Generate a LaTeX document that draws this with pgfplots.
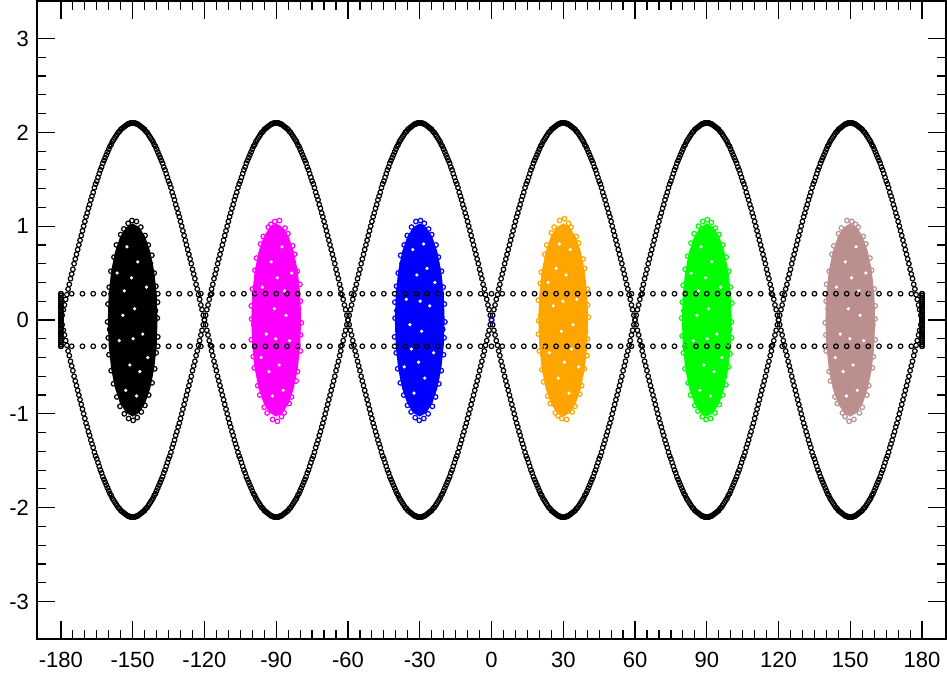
\documentclass[border=0pt]{standalone}
\usepackage{fontspec}
\setmainfont{Liberation Sans}
\usepackage{pgfplots}
\usepackage{pgfplotstable}
\pgfplotsset{compat=1.18}
\definecolor{cmag}{RGB}{255,0,255}
\definecolor{cblue}{RGB}{0,0,255}
\definecolor{corange}{RGB}{255,165,0}
\definecolor{cgreen}{RGB}{0,255,0}
\definecolor{cbrown}{RGB}{188,143,143}
\pgfplotsset{mk/.style={only marks, mark=o, mark size=1.15pt, line width=0.6pt},
  spk/.style={only marks, mark=*, mark size=0.6pt, white, mark options={draw=white, fill=white}}}
\pgfplotstableread{
x yt yb
-180 0 0
-179.5 0.05 -0.05
-179 0.11 -0.11
-178.5 0.16 -0.16
-178 0.22 -0.22
-177.5 0.27 -0.27
-177 0.33 -0.33
-176.5 0.38 -0.38
-176 0.44 -0.44
-175.5 0.49 -0.49
-175 0.54 -0.54
-174.5 0.6 -0.6
-174 0.65 -0.65
-173.5 0.7 -0.7
-173 0.75 -0.75
-172.5 0.8 -0.8
-172 0.85 -0.85
-171.5 0.9 -0.9
-171 0.95 -0.95
-170.5 1 -1
-170 1.05 -1.05
-169.5 1.1 -1.1
-169 1.14 -1.14
-168.5 1.19 -1.19
-168 1.23 -1.23
-167.5 1.28 -1.28
-167 1.32 -1.32
-166.5 1.36 -1.36
-166 1.41 -1.41
-165.5 1.45 -1.45
-165 1.48 -1.48
-164.5 1.52 -1.52
-164 1.56 -1.56
-163.5 1.6 -1.6
-163 1.63 -1.63
-162.5 1.67 -1.67
-162 1.7 -1.7
-161.5 1.73 -1.73
-161 1.76 -1.76
-160.5 1.79 -1.79
-160 1.82 -1.82
-159.5 1.85 -1.85
-159 1.87 -1.87
-158.5 1.9 -1.9
-158 1.92 -1.92
-157.5 1.94 -1.94
-157 1.96 -1.96
-156.5 1.98 -1.98
-156 2 -2
-155.5 2.01 -2.01
-155 2.03 -2.03
-154.5 2.04 -2.04
-154 2.05 -2.05
-153.5 2.06 -2.06
-153 2.07 -2.07
-152.5 2.08 -2.08
-152 2.09 -2.09
-151.5 2.09 -2.09
-151 2.1 -2.1
-150.5 2.1 -2.1
-150 2.1 -2.1
-149.5 2.1 -2.1
-149 2.1 -2.1
-148.5 2.09 -2.09
-148 2.09 -2.09
-147.5 2.08 -2.08
-147 2.07 -2.07
-146.5 2.06 -2.06
-146 2.05 -2.05
-145.5 2.04 -2.04
-145 2.03 -2.03
-144.5 2.01 -2.01
-144 2 -2
-143.5 1.98 -1.98
-143 1.96 -1.96
-142.5 1.94 -1.94
-142 1.92 -1.92
-141.5 1.9 -1.9
-141 1.87 -1.87
-140.5 1.85 -1.85
-140 1.82 -1.82
-139.5 1.79 -1.79
-139 1.76 -1.76
-138.5 1.73 -1.73
-138 1.7 -1.7
-137.5 1.67 -1.67
-137 1.63 -1.63
-136.5 1.6 -1.6
-136 1.56 -1.56
-135.5 1.52 -1.52
-135 1.48 -1.48
-134.5 1.45 -1.45
-134 1.41 -1.41
-133.5 1.36 -1.36
-133 1.32 -1.32
-132.5 1.28 -1.28
-132 1.23 -1.23
-131.5 1.19 -1.19
-131 1.14 -1.14
-130.5 1.1 -1.1
-130 1.05 -1.05
-129.5 1 -1
-129 0.95 -0.95
-128.5 0.9 -0.9
-128 0.85 -0.85
-127.5 0.8 -0.8
-127 0.75 -0.75
-126.5 0.7 -0.7
-126 0.65 -0.65
-125.5 0.6 -0.6
-125 0.54 -0.54
-124.5 0.49 -0.49
-124 0.44 -0.44
-123.5 0.38 -0.38
-123 0.33 -0.33
-122.5 0.27 -0.27
-122 0.22 -0.22
-121.5 0.16 -0.16
-121 0.11 -0.11
-120.5 0.05 -0.05
-120 0 0
-119.5 0.05 -0.05
-119 0.11 -0.11
-118.5 0.16 -0.16
-118 0.22 -0.22
-117.5 0.27 -0.27
-117 0.33 -0.33
-116.5 0.38 -0.38
-116 0.44 -0.44
-115.5 0.49 -0.49
-115 0.54 -0.54
-114.5 0.6 -0.6
-114 0.65 -0.65
-113.5 0.7 -0.7
-113 0.75 -0.75
-112.5 0.8 -0.8
-112 0.85 -0.85
-111.5 0.9 -0.9
-111 0.95 -0.95
-110.5 1 -1
-110 1.05 -1.05
-109.5 1.1 -1.1
-109 1.14 -1.14
-108.5 1.19 -1.19
-108 1.23 -1.23
-107.5 1.28 -1.28
-107 1.32 -1.32
-106.5 1.36 -1.36
-106 1.41 -1.41
-105.5 1.45 -1.45
-105 1.48 -1.48
-104.5 1.52 -1.52
-104 1.56 -1.56
-103.5 1.6 -1.6
-103 1.63 -1.63
-102.5 1.67 -1.67
-102 1.7 -1.7
-101.5 1.73 -1.73
-101 1.76 -1.76
-100.5 1.79 -1.79
-100 1.82 -1.82
-99.5 1.85 -1.85
-99 1.87 -1.87
-98.5 1.9 -1.9
-98 1.92 -1.92
-97.5 1.94 -1.94
-97 1.96 -1.96
-96.5 1.98 -1.98
-96 2 -2
-95.5 2.01 -2.01
-95 2.03 -2.03
-94.5 2.04 -2.04
-94 2.05 -2.05
-93.5 2.06 -2.06
-93 2.07 -2.07
-92.5 2.08 -2.08
-92 2.09 -2.09
-91.5 2.09 -2.09
-91 2.1 -2.1
-90.5 2.1 -2.1
-90 2.1 -2.1
-89.5 2.1 -2.1
-89 2.1 -2.1
-88.5 2.09 -2.09
-88 2.09 -2.09
-87.5 2.08 -2.08
-87 2.07 -2.07
-86.5 2.06 -2.06
-86 2.05 -2.05
-85.5 2.04 -2.04
-85 2.03 -2.03
-84.5 2.01 -2.01
-84 2 -2
-83.5 1.98 -1.98
-83 1.96 -1.96
-82.5 1.94 -1.94
-82 1.92 -1.92
-81.5 1.9 -1.9
-81 1.87 -1.87
-80.5 1.85 -1.85
-80 1.82 -1.82
-79.5 1.79 -1.79
-79 1.76 -1.76
-78.5 1.73 -1.73
-78 1.7 -1.7
-77.5 1.67 -1.67
-77 1.63 -1.63
-76.5 1.6 -1.6
-76 1.56 -1.56
-75.5 1.52 -1.52
-75 1.48 -1.48
-74.5 1.45 -1.45
-74 1.41 -1.41
-73.5 1.36 -1.36
-73 1.32 -1.32
-72.5 1.28 -1.28
-72 1.23 -1.23
-71.5 1.19 -1.19
-71 1.14 -1.14
-70.5 1.1 -1.1
-70 1.05 -1.05
-69.5 1 -1
-69 0.95 -0.95
-68.5 0.9 -0.9
-68 0.85 -0.85
-67.5 0.8 -0.8
-67 0.75 -0.75
-66.5 0.7 -0.7
-66 0.65 -0.65
-65.5 0.6 -0.6
-65 0.54 -0.54
-64.5 0.49 -0.49
-64 0.44 -0.44
-63.5 0.38 -0.38
-63 0.33 -0.33
-62.5 0.27 -0.27
-62 0.22 -0.22
-61.5 0.16 -0.16
-61 0.11 -0.11
-60.5 0.05 -0.05
-60 0 0
-59.5 0.05 -0.05
-59 0.11 -0.11
-58.5 0.16 -0.16
-58 0.22 -0.22
-57.5 0.27 -0.27
-57 0.33 -0.33
-56.5 0.38 -0.38
-56 0.44 -0.44
-55.5 0.49 -0.49
-55 0.54 -0.54
-54.5 0.6 -0.6
-54 0.65 -0.65
-53.5 0.7 -0.7
-53 0.75 -0.75
-52.5 0.8 -0.8
-52 0.85 -0.85
-51.5 0.9 -0.9
-51 0.95 -0.95
-50.5 1 -1
-50 1.05 -1.05
-49.5 1.1 -1.1
-49 1.14 -1.14
-48.5 1.19 -1.19
-48 1.23 -1.23
-47.5 1.28 -1.28
-47 1.32 -1.32
-46.5 1.36 -1.36
-46 1.41 -1.41
-45.5 1.45 -1.45
-45 1.48 -1.48
-44.5 1.52 -1.52
-44 1.56 -1.56
-43.5 1.6 -1.6
-43 1.63 -1.63
-42.5 1.67 -1.67
-42 1.7 -1.7
-41.5 1.73 -1.73
-41 1.76 -1.76
-40.5 1.79 -1.79
-40 1.82 -1.82
-39.5 1.85 -1.85
-39 1.87 -1.87
-38.5 1.9 -1.9
-38 1.92 -1.92
-37.5 1.94 -1.94
-37 1.96 -1.96
-36.5 1.98 -1.98
-36 2 -2
-35.5 2.01 -2.01
-35 2.03 -2.03
-34.5 2.04 -2.04
-34 2.05 -2.05
-33.5 2.06 -2.06
-33 2.07 -2.07
-32.5 2.08 -2.08
-32 2.09 -2.09
-31.5 2.09 -2.09
-31 2.1 -2.1
-30.5 2.1 -2.1
-30 2.1 -2.1
-29.5 2.1 -2.1
-29 2.1 -2.1
-28.5 2.09 -2.09
-28 2.09 -2.09
-27.5 2.08 -2.08
-27 2.07 -2.07
-26.5 2.06 -2.06
-26 2.05 -2.05
-25.5 2.04 -2.04
-25 2.03 -2.03
-24.5 2.01 -2.01
-24 2 -2
-23.5 1.98 -1.98
-23 1.96 -1.96
-22.5 1.94 -1.94
-22 1.92 -1.92
-21.5 1.9 -1.9
-21 1.87 -1.87
-20.5 1.85 -1.85
-20 1.82 -1.82
-19.5 1.79 -1.79
-19 1.76 -1.76
-18.5 1.73 -1.73
-18 1.7 -1.7
-17.5 1.67 -1.67
-17 1.63 -1.63
-16.5 1.6 -1.6
-16 1.56 -1.56
-15.5 1.52 -1.52
-15 1.48 -1.48
-14.5 1.45 -1.45
-14 1.41 -1.41
-13.5 1.36 -1.36
-13 1.32 -1.32
-12.5 1.28 -1.28
-12 1.23 -1.23
-11.5 1.19 -1.19
-11 1.14 -1.14
-10.5 1.1 -1.1
-10 1.05 -1.05
-9.5 1 -1
-9 0.95 -0.95
-8.5 0.9 -0.9
-8 0.85 -0.85
-7.5 0.8 -0.8
-7 0.75 -0.75
-6.5 0.7 -0.7
-6 0.65 -0.65
-5.5 0.6 -0.6
-5 0.54 -0.54
-4.5 0.49 -0.49
-4 0.44 -0.44
-3.5 0.38 -0.38
-3 0.33 -0.33
-2.5 0.27 -0.27
-2 0.22 -0.22
-1.5 0.16 -0.16
-1 0.11 -0.11
-0.5 0.05 -0.05
0 0 0
0.5 0.05 -0.05
1 0.11 -0.11
1.5 0.16 -0.16
2 0.22 -0.22
2.5 0.27 -0.27
3 0.33 -0.33
3.5 0.38 -0.38
4 0.44 -0.44
4.5 0.49 -0.49
5 0.54 -0.54
5.5 0.6 -0.6
6 0.65 -0.65
6.5 0.7 -0.7
7 0.75 -0.75
7.5 0.8 -0.8
8 0.85 -0.85
8.5 0.9 -0.9
9 0.95 -0.95
9.5 1 -1
10 1.05 -1.05
10.5 1.1 -1.1
11 1.14 -1.14
11.5 1.19 -1.19
12 1.23 -1.23
12.5 1.28 -1.28
13 1.32 -1.32
13.5 1.36 -1.36
14 1.41 -1.41
14.5 1.45 -1.45
15 1.48 -1.48
15.5 1.52 -1.52
16 1.56 -1.56
16.5 1.6 -1.6
17 1.63 -1.63
17.5 1.67 -1.67
18 1.7 -1.7
18.5 1.73 -1.73
19 1.76 -1.76
19.5 1.79 -1.79
20 1.82 -1.82
20.5 1.85 -1.85
21 1.87 -1.87
21.5 1.9 -1.9
22 1.92 -1.92
22.5 1.94 -1.94
23 1.96 -1.96
23.5 1.98 -1.98
24 2 -2
24.5 2.01 -2.01
25 2.03 -2.03
25.5 2.04 -2.04
26 2.05 -2.05
26.5 2.06 -2.06
27 2.07 -2.07
27.5 2.08 -2.08
28 2.09 -2.09
28.5 2.09 -2.09
29 2.1 -2.1
29.5 2.1 -2.1
30 2.1 -2.1
30.5 2.1 -2.1
31 2.1 -2.1
31.5 2.09 -2.09
32 2.09 -2.09
32.5 2.08 -2.08
33 2.07 -2.07
33.5 2.06 -2.06
34 2.05 -2.05
34.5 2.04 -2.04
35 2.03 -2.03
35.5 2.01 -2.01
36 2 -2
36.5 1.98 -1.98
37 1.96 -1.96
37.5 1.94 -1.94
38 1.92 -1.92
38.5 1.9 -1.9
39 1.87 -1.87
39.5 1.85 -1.85
40 1.82 -1.82
40.5 1.79 -1.79
41 1.76 -1.76
41.5 1.73 -1.73
42 1.7 -1.7
42.5 1.67 -1.67
43 1.63 -1.63
43.5 1.6 -1.6
44 1.56 -1.56
44.5 1.52 -1.52
45 1.48 -1.48
45.5 1.45 -1.45
46 1.41 -1.41
46.5 1.36 -1.36
47 1.32 -1.32
47.5 1.28 -1.28
48 1.23 -1.23
48.5 1.19 -1.19
49 1.14 -1.14
49.5 1.1 -1.1
50 1.05 -1.05
50.5 1 -1
51 0.95 -0.95
51.5 0.9 -0.9
52 0.85 -0.85
52.5 0.8 -0.8
53 0.75 -0.75
53.5 0.7 -0.7
54 0.65 -0.65
54.5 0.6 -0.6
55 0.54 -0.54
55.5 0.49 -0.49
56 0.44 -0.44
56.5 0.38 -0.38
57 0.33 -0.33
57.5 0.27 -0.27
58 0.22 -0.22
58.5 0.16 -0.16
59 0.11 -0.11
59.5 0.05 -0.05
60 0 0
60.5 0.05 -0.05
61 0.11 -0.11
61.5 0.16 -0.16
62 0.22 -0.22
62.5 0.27 -0.27
63 0.33 -0.33
63.5 0.38 -0.38
64 0.44 -0.44
64.5 0.49 -0.49
65 0.54 -0.54
65.5 0.6 -0.6
66 0.65 -0.65
66.5 0.7 -0.7
67 0.75 -0.75
67.5 0.8 -0.8
68 0.85 -0.85
68.5 0.9 -0.9
69 0.95 -0.95
69.5 1 -1
70 1.05 -1.05
70.5 1.1 -1.1
71 1.14 -1.14
71.5 1.19 -1.19
72 1.23 -1.23
72.5 1.28 -1.28
73 1.32 -1.32
73.5 1.36 -1.36
74 1.41 -1.41
74.5 1.45 -1.45
75 1.48 -1.48
75.5 1.52 -1.52
76 1.56 -1.56
76.5 1.6 -1.6
77 1.63 -1.63
77.5 1.67 -1.67
78 1.7 -1.7
78.5 1.73 -1.73
79 1.76 -1.76
79.5 1.79 -1.79
80 1.82 -1.82
80.5 1.85 -1.85
81 1.87 -1.87
81.5 1.9 -1.9
82 1.92 -1.92
82.5 1.94 -1.94
83 1.96 -1.96
83.5 1.98 -1.98
84 2 -2
84.5 2.01 -2.01
85 2.03 -2.03
85.5 2.04 -2.04
86 2.05 -2.05
86.5 2.06 -2.06
87 2.07 -2.07
87.5 2.08 -2.08
88 2.09 -2.09
88.5 2.09 -2.09
89 2.1 -2.1
89.5 2.1 -2.1
90 2.1 -2.1
90.5 2.1 -2.1
91 2.1 -2.1
91.5 2.09 -2.09
92 2.09 -2.09
92.5 2.08 -2.08
93 2.07 -2.07
93.5 2.06 -2.06
94 2.05 -2.05
94.5 2.04 -2.04
95 2.03 -2.03
95.5 2.01 -2.01
96 2 -2
96.5 1.98 -1.98
97 1.96 -1.96
97.5 1.94 -1.94
98 1.92 -1.92
98.5 1.9 -1.9
99 1.87 -1.87
99.5 1.85 -1.85
100 1.82 -1.82
100.5 1.79 -1.79
101 1.76 -1.76
101.5 1.73 -1.73
102 1.7 -1.7
102.5 1.67 -1.67
103 1.63 -1.63
103.5 1.6 -1.6
104 1.56 -1.56
104.5 1.52 -1.52
105 1.48 -1.48
105.5 1.45 -1.45
106 1.41 -1.41
106.5 1.36 -1.36
107 1.32 -1.32
107.5 1.28 -1.28
108 1.23 -1.23
108.5 1.19 -1.19
109 1.14 -1.14
109.5 1.1 -1.1
110 1.05 -1.05
110.5 1 -1
111 0.95 -0.95
111.5 0.9 -0.9
112 0.85 -0.85
112.5 0.8 -0.8
113 0.75 -0.75
113.5 0.7 -0.7
114 0.65 -0.65
114.5 0.6 -0.6
115 0.54 -0.54
115.5 0.49 -0.49
116 0.44 -0.44
116.5 0.38 -0.38
117 0.33 -0.33
117.5 0.27 -0.27
118 0.22 -0.22
118.5 0.16 -0.16
119 0.11 -0.11
119.5 0.05 -0.05
120 0 0
120.5 0.05 -0.05
121 0.11 -0.11
121.5 0.16 -0.16
122 0.22 -0.22
122.5 0.27 -0.27
123 0.33 -0.33
123.5 0.38 -0.38
124 0.44 -0.44
124.5 0.49 -0.49
125 0.54 -0.54
125.5 0.6 -0.6
126 0.65 -0.65
126.5 0.7 -0.7
127 0.75 -0.75
127.5 0.8 -0.8
128 0.85 -0.85
128.5 0.9 -0.9
129 0.95 -0.95
129.5 1 -1
130 1.05 -1.05
130.5 1.1 -1.1
131 1.14 -1.14
131.5 1.19 -1.19
132 1.23 -1.23
132.5 1.28 -1.28
133 1.32 -1.32
133.5 1.36 -1.36
134 1.41 -1.41
134.5 1.45 -1.45
135 1.48 -1.48
135.5 1.52 -1.52
136 1.56 -1.56
136.5 1.6 -1.6
137 1.63 -1.63
137.5 1.67 -1.67
138 1.7 -1.7
138.5 1.73 -1.73
139 1.76 -1.76
139.5 1.79 -1.79
140 1.82 -1.82
140.5 1.85 -1.85
141 1.87 -1.87
141.5 1.9 -1.9
142 1.92 -1.92
142.5 1.94 -1.94
143 1.96 -1.96
143.5 1.98 -1.98
144 2 -2
144.5 2.01 -2.01
145 2.03 -2.03
145.5 2.04 -2.04
146 2.05 -2.05
146.5 2.06 -2.06
147 2.07 -2.07
147.5 2.08 -2.08
148 2.09 -2.09
148.5 2.09 -2.09
149 2.1 -2.1
149.5 2.1 -2.1
150 2.1 -2.1
150.5 2.1 -2.1
151 2.1 -2.1
151.5 2.09 -2.09
152 2.09 -2.09
152.5 2.08 -2.08
153 2.07 -2.07
153.5 2.06 -2.06
154 2.05 -2.05
154.5 2.04 -2.04
155 2.03 -2.03
155.5 2.01 -2.01
156 2 -2
156.5 1.98 -1.98
157 1.96 -1.96
157.5 1.94 -1.94
158 1.92 -1.92
158.5 1.9 -1.9
159 1.87 -1.87
159.5 1.85 -1.85
160 1.82 -1.82
160.5 1.79 -1.79
161 1.76 -1.76
161.5 1.73 -1.73
162 1.7 -1.7
162.5 1.67 -1.67
163 1.63 -1.63
163.5 1.6 -1.6
164 1.56 -1.56
164.5 1.52 -1.52
165 1.48 -1.48
165.5 1.45 -1.45
166 1.41 -1.41
166.5 1.36 -1.36
167 1.32 -1.32
167.5 1.28 -1.28
168 1.23 -1.23
168.5 1.19 -1.19
169 1.14 -1.14
169.5 1.1 -1.1
170 1.05 -1.05
170.5 1 -1
171 0.95 -0.95
171.5 0.9 -0.9
172 0.85 -0.85
172.5 0.8 -0.8
173 0.75 -0.75
173.5 0.7 -0.7
174 0.65 -0.65
174.5 0.6 -0.6
175 0.54 -0.54
175.5 0.49 -0.49
176 0.44 -0.44
176.5 0.38 -0.38
177 0.33 -0.33
177.5 0.27 -0.27
178 0.22 -0.22
178.5 0.16 -0.16
179 0.11 -0.11
179.5 0.05 -0.05
180 0 0
}\outline
\pgfplotstableread{
x yt yb
-180 0.28 -0.28
-175.5 0.28 -0.28
-171 0.28 -0.28
-166.5 0.28 -0.28
-162 0.28 -0.28
-157.5 0.28 -0.28
-153 0.28 -0.28
-148.5 0.28 -0.28
-144 0.28 -0.28
-139.5 0.28 -0.28
-135 0.28 -0.28
-130.5 0.28 -0.28
-126 0.28 -0.28
-121.5 0.28 -0.28
-117 0.28 -0.28
-112.5 0.28 -0.28
-108 0.28 -0.28
-103.5 0.28 -0.28
-99 0.28 -0.28
-94.5 0.28 -0.28
-90 0.28 -0.28
-85.5 0.28 -0.28
-81 0.28 -0.28
-76.5 0.28 -0.28
-72 0.28 -0.28
-67.5 0.28 -0.28
-63 0.28 -0.28
-58.5 0.28 -0.28
-54 0.28 -0.28
-49.5 0.28 -0.28
-45 0.28 -0.28
-40.5 0.28 -0.28
-36 0.28 -0.28
-31.5 0.28 -0.28
-27 0.28 -0.28
-22.5 0.28 -0.28
-18 0.28 -0.28
-13.5 0.28 -0.28
-9 0.28 -0.28
-4.5 0.28 -0.28
0 0.28 -0.28
4.5 0.28 -0.28
9 0.28 -0.28
13.5 0.28 -0.28
18 0.28 -0.28
22.5 0.28 -0.28
27 0.28 -0.28
31.5 0.28 -0.28
36 0.28 -0.28
40.5 0.28 -0.28
45 0.28 -0.28
49.5 0.28 -0.28
54 0.28 -0.28
58.5 0.28 -0.28
63 0.28 -0.28
67.5 0.28 -0.28
72 0.28 -0.28
76.5 0.28 -0.28
81 0.28 -0.28
85.5 0.28 -0.28
90 0.28 -0.28
94.5 0.28 -0.28
99 0.28 -0.28
103.5 0.28 -0.28
108 0.28 -0.28
112.5 0.28 -0.28
117 0.28 -0.28
121.5 0.28 -0.28
126 0.28 -0.28
130.5 0.28 -0.28
135 0.28 -0.28
139.5 0.28 -0.28
144 0.28 -0.28
148.5 0.28 -0.28
153 0.28 -0.28
157.5 0.28 -0.28
162 0.28 -0.28
166.5 0.28 -0.28
171 0.28 -0.28
175.5 0.28 -0.28
180 0.28 -0.28
}\dotted
\pgfplotstableread{
y xl xr
-0.28 -180 180
-0.26 -180 180
-0.24 -180 180
-0.22 -180 180
-0.2 -180 180
-0.18 -180 180
-0.16 -180 180
-0.14 -180 180
-0.12 -180 180
-0.1 -180 180
-0.08 -180 180
-0.06 -180 180
-0.04 -180 180
-0.02 -180 180
0 -180 180
0.02 -180 180
0.04 -180 180
0.06 -180 180
0.08 -180 180
0.1 -180 180
0.12 -180 180
0.14 -180 180
0.16 -180 180
0.18 -180 180
0.2 -180 180
0.22 -180 180
0.24 -180 180
0.26 -180 180
0.28 -180 180
}\bars
\begin{document}
\begin{tikzpicture}
\useasboundingbox (0,0) rectangle (473.5pt,337.5pt);
\begin{axis}[
  at={(18.5pt,18pt)}, anchor=south west,
  width=454.5pt, height=319pt, scale only axis,
  xmin=-190, xmax=190, ymin=-3.4, ymax=3.4,
  xtick={-180,-150,...,180}, ytick={-3,-2,...,3},
  minor x tick num=5, minor y tick num=4,
  tick align=inside,
  major tick length=9pt, minor tick length=4.5pt,
  tick style={black, line width=0.6pt},
  axis line style={line width=0.9pt},
  /pgf/number format/assume math mode=true,
  tick label style={font=\fontsize{11}{13}\selectfont},
  xticklabel style={yshift=-3pt},
  yticklabel style={xshift=-0.5pt},
  clip=true,
]
\addplot[mk, black] table[x=x,y=yt]{\outline};
\addplot[mk, black] table[x=x,y=yb]{\outline};
\addplot[mk, black] table[x=x,y=yt]{\dotted};
\addplot[mk, black] table[x=x,y=yb]{\dotted};
\addplot[mk, black] table[x=xl,y=y]{\bars};
\addplot[mk, black] table[x=xr,y=y]{\bars};
% cluster -150
\addplot[draw=none, fill=black] coordinates {(-139.6,0) (-139.95,0.27) (-140.99,0.52) (-142.65,0.73) (-144.8,0.89) (-147.31,0.99) (-150,1.03) (-152.69,0.99) (-155.2,0.89) (-157.35,0.73) (-159.01,0.52) (-160.05,0.27) (-160.4,0) (-160.05,-0.27) (-159.01,-0.52) (-157.35,-0.73) (-155.2,-0.89) (-152.69,-0.99) (-150,-1.03) (-147.31,-0.99) (-144.8,-0.89) (-142.65,-0.73) (-140.99,-0.52) (-139.95,-0.27)};
\addplot[mk, black] coordinates {(-139.7,0.02) (-139.6,0.19) (-140.3,0.36) (-141,0.5) (-142,0.69) (-143.5,0.8) (-144.8,0.9) (-146.6,0.99) (-148.4,1.05) (-150.3,1.06) (-151.9,1.03) (-153.7,0.97) (-155,0.91) (-156.8,0.8) (-157.8,0.67) (-159.1,0.52) (-159.8,0.35) (-160.3,0.17) (-160.5,-0.02) (-160.2,-0.19) (-159.9,-0.37) (-159,-0.54) (-158,-0.68) (-156.6,-0.82) (-155.3,-0.92) (-153.5,-1) (-151.7,-1.05) (-149.8,-1.07) (-148.1,-1.04) (-146.4,-0.98) (-144.9,-0.91) (-143.3,-0.8) (-141.9,-0.67) (-140.8,-0.52) (-140.2,-0.35) (-139.5,-0.18) (-140.5,0.1) (-159.6,-0.1) (-141.2,0.25) (-159,0.28) (-142.6,0.6) (-157,-0.62) (-145.4,0.82) (-154.4,-0.86)};
\addplot[spk] coordinates {(-147.9,0.62) (-153.5,0.31) (-145.8,-0.15) (-151.2,-0.48) (-149.2,0.12) (-155.6,-0.22) (-144.2,0.35) (-152.4,0.78) (-148.4,-0.81) (-150.5,0.45) (-147,-0.55) (-154.1,0.05) (-143.7,-0.4) (-156.5,0.5) (-149.8,-0.2) (-152.9,-0.75)};
% cluster -90
\addplot[draw=none, fill=cmag] coordinates {(-79.6,0) (-79.95,0.27) (-80.99,0.52) (-82.65,0.73) (-84.8,0.89) (-87.31,0.99) (-90,1.03) (-92.69,0.99) (-95.2,0.89) (-97.35,0.73) (-99.01,0.52) (-100.05,0.27) (-100.4,0) (-100.05,-0.27) (-99.01,-0.52) (-97.35,-0.73) (-95.2,-0.89) (-92.69,-0.99) (-90,-1.03) (-87.31,-0.99) (-84.8,-0.89) (-82.65,-0.73) (-80.99,-0.52) (-79.95,-0.27)};
\addplot[mk, cmag] coordinates {(-79.5,-0.03) (-79.9,0.2) (-80.1,0.38) (-81.2,0.52) (-82.3,0.7) (-83.1,0.79) (-85.1,0.92) (-86.3,0.98) (-88.6,1.06) (-90.6,1.05) (-92.2,1.02) (-93.3,0.99) (-95.4,0.89) (-96.5,0.81) (-98.2,0.66) (-98.9,0.53) (-100,0.33) (-100.4,0.15) (-100.3,0.01) (-100.4,-0.21) (-99.6,-0.39) (-99.2,-0.51) (-97.7,-0.7) (-96.9,-0.8) (-95,-0.93) (-93.8,-0.99) (-91.5,-1.06) (-89.5,-1.08) (-87.8,-1.03) (-86.7,-0.99) (-84.6,-0.89) (-83.6,-0.82) (-81.7,-0.65) (-81.1,-0.55) (-79.9,-0.33) (-79.8,-0.16) (-80.7,0.12) (-99.4,-0.05) (-81,-0.26) (-98.7,0.3) (-82.9,-0.6) (-97.3,0.58) (-85.8,0.86) (-94.6,-0.84)};
\addplot[spk] coordinates {(-92.1,0.62) (-86.5,0.31) (-94.2,-0.15) (-88.8,-0.48) (-90.8,0.12) (-84.4,-0.22) (-95.8,0.35) (-87.6,0.78) (-91.6,-0.81) (-89.5,0.45) (-93,-0.55) (-85.9,0.05) (-96.3,-0.4) (-83.5,0.5) (-90.2,-0.2) (-87.1,-0.75)};
% cluster -30
\addplot[draw=none, fill=cblue] coordinates {(-19.6,0) (-19.95,0.27) (-20.99,0.52) (-22.65,0.73) (-24.8,0.89) (-27.31,0.99) (-30,1.03) (-32.69,0.99) (-35.2,0.89) (-37.35,0.73) (-39.01,0.52) (-40.05,0.27) (-40.4,0) (-40.05,-0.27) (-39.01,-0.52) (-37.35,-0.73) (-35.2,-0.89) (-32.69,-0.99) (-30,-1.03) (-27.31,-0.99) (-24.8,-0.89) (-22.65,-0.73) (-20.99,-0.52) (-19.95,-0.27)};
\addplot[mk, cblue] coordinates {(-40.3,0.02) (-40.4,0.19) (-39.7,0.36) (-39,0.5) (-38,0.69) (-36.5,0.8) (-35.2,0.9) (-33.4,0.99) (-31.6,1.05) (-29.7,1.06) (-28.1,1.03) (-26.3,0.97) (-25,0.91) (-23.2,0.8) (-22.2,0.67) (-20.9,0.52) (-20.2,0.35) (-19.7,0.17) (-19.5,-0.02) (-19.8,-0.19) (-20.1,-0.37) (-21,-0.54) (-22,-0.68) (-23.4,-0.82) (-24.7,-0.92) (-26.5,-1) (-28.3,-1.05) (-30.2,-1.07) (-31.9,-1.04) (-33.6,-0.98) (-35.1,-0.91) (-36.7,-0.8) (-38.1,-0.67) (-39.2,-0.52) (-39.8,-0.35) (-40.5,-0.18) (-39.5,0.1) (-20.4,-0.1) (-38.8,0.25) (-21,0.28) (-37.4,0.6) (-23,-0.62) (-34.6,0.82) (-25.6,-0.86)};
\addplot[spk] coordinates {(-27.9,-0.62) (-33.5,-0.31) (-25.8,0.15) (-31.2,0.48) (-29.2,-0.12) (-35.6,0.22) (-24.2,-0.35) (-32.4,-0.78) (-28.4,0.81) (-30.5,-0.45) (-27,0.55) (-34.1,-0.05) (-23.7,0.4) (-36.5,-0.5) (-29.8,0.2) (-32.9,0.75)};
\addplot[mk, cblue] coordinates {(0,0)};
% cluster 30
\addplot[draw=none, fill=corange] coordinates {(40.4,0) (40.05,0.27) (39.01,0.52) (37.35,0.73) (35.2,0.89) (32.69,0.99) (30,1.03) (27.31,0.99) (24.8,0.89) (22.65,0.73) (20.99,0.52) (19.95,0.27) (19.6,0) (19.95,-0.27) (20.99,-0.52) (22.65,-0.73) (24.8,-0.89) (27.31,-0.99) (30,-1.03) (32.69,-0.99) (35.2,-0.89) (37.35,-0.73) (39.01,-0.52) (40.05,-0.27)};
\addplot[mk, corange] coordinates {(40.5,0.03) (40.1,-0.2) (39.9,-0.38) (38.8,-0.52) (37.7,-0.7) (36.9,-0.79) (34.9,-0.92) (33.7,-0.98) (31.4,-1.06) (29.4,-1.05) (27.8,-1.02) (26.7,-0.99) (24.6,-0.89) (23.5,-0.81) (21.8,-0.66) (21.1,-0.53) (20,-0.33) (19.6,-0.15) (19.7,-0.01) (19.6,0.21) (20.4,0.39) (20.8,0.51) (22.3,0.7) (23.1,0.8) (25,0.93) (26.2,0.99) (28.5,1.06) (30.5,1.08) (32.2,1.03) (33.3,0.99) (35.4,0.89) (36.4,0.82) (38.3,0.65) (38.9,0.55) (40.1,0.33) (40.2,0.16) (39.3,-0.12) (20.6,0.05) (39,0.26) (21.3,-0.3) (37.1,0.6) (22.7,-0.58) (34.2,-0.86) (25.4,0.84)};
\addplot[spk] coordinates {(27.9,-0.62) (33.5,-0.31) (25.8,0.15) (31.2,0.48) (29.2,-0.12) (35.6,0.22) (24.2,-0.35) (32.4,-0.78) (28.4,0.81) (30.5,-0.45) (27,0.55) (34.1,-0.05) (23.7,0.4) (36.5,-0.5) (29.8,0.2) (32.9,0.75)};
% cluster 90
\addplot[draw=none, fill=cgreen] coordinates {(100.4,0) (100.05,0.27) (99.01,0.52) (97.35,0.73) (95.2,0.89) (92.69,0.99) (90,1.03) (87.31,0.99) (84.8,0.89) (82.65,0.73) (80.99,0.52) (79.95,0.27) (79.6,0) (79.95,-0.27) (80.99,-0.52) (82.65,-0.73) (84.8,-0.89) (87.31,-0.99) (90,-1.03) (92.69,-0.99) (95.2,-0.89) (97.35,-0.73) (99.01,-0.52) (100.05,-0.27)};
\addplot[mk, cgreen] coordinates {(100.3,-0.02) (100.4,-0.19) (99.7,-0.36) (99,-0.5) (98,-0.69) (96.5,-0.8) (95.2,-0.9) (93.4,-0.99) (91.6,-1.05) (89.7,-1.06) (88.1,-1.03) (86.3,-0.97) (85,-0.91) (83.2,-0.8) (82.2,-0.67) (80.9,-0.52) (80.2,-0.35) (79.7,-0.17) (79.5,0.02) (79.8,0.19) (80.1,0.37) (81,0.54) (82,0.68) (83.4,0.82) (84.7,0.92) (86.5,1) (88.3,1.05) (90.2,1.07) (91.9,1.04) (93.6,0.98) (95.1,0.91) (96.7,0.8) (98.1,0.67) (99.2,0.52) (99.8,0.35) (100.5,0.18) (99.5,-0.1) (80.4,0.1) (98.8,-0.25) (81,-0.28) (97.4,-0.6) (83,0.62) (94.6,-0.82) (85.6,0.86)};
\addplot[spk] coordinates {(92.1,0.62) (86.5,0.31) (94.2,-0.15) (88.8,-0.48) (90.8,0.12) (84.4,-0.22) (95.8,0.35) (87.6,0.78) (91.6,-0.81) (89.5,0.45) (93,-0.55) (85.9,0.05) (96.3,-0.4) (83.5,0.5) (90.2,-0.2) (87.1,-0.75)};
% cluster 150
\addplot[draw=none, fill=cbrown] coordinates {(160.4,0) (160.05,0.27) (159.01,0.52) (157.35,0.73) (155.2,0.89) (152.69,0.99) (150,1.03) (147.31,0.99) (144.8,0.89) (142.65,0.73) (140.99,0.52) (139.95,0.27) (139.6,0) (139.95,-0.27) (140.99,-0.52) (142.65,-0.73) (144.8,-0.89) (147.31,-0.99) (150,-1.03) (152.69,-0.99) (155.2,-0.89) (157.35,-0.73) (159.01,-0.52) (160.05,-0.27)};
\addplot[mk, cbrown] coordinates {(139.5,-0.03) (139.9,0.2) (140.1,0.38) (141.2,0.52) (142.3,0.7) (143.1,0.79) (145.1,0.92) (146.3,0.98) (148.6,1.06) (150.6,1.05) (152.2,1.02) (153.3,0.99) (155.4,0.89) (156.5,0.81) (158.2,0.66) (158.9,0.53) (160,0.33) (160.4,0.15) (160.3,0.01) (160.4,-0.21) (159.6,-0.39) (159.2,-0.51) (157.7,-0.7) (156.9,-0.8) (155,-0.93) (153.8,-0.99) (151.5,-1.06) (149.5,-1.08) (147.8,-1.03) (146.7,-0.99) (144.6,-0.89) (143.6,-0.82) (141.7,-0.65) (141.1,-0.55) (139.9,-0.33) (139.8,-0.16) (140.7,0.12) (159.4,-0.05) (141,-0.26) (158.7,0.3) (142.9,-0.6) (157.3,0.58) (145.8,0.86) (154.6,-0.84)};
\addplot[spk] coordinates {(147.9,0.62) (153.5,0.31) (145.8,-0.15) (151.2,-0.48) (149.2,0.12) (155.6,-0.22) (144.2,0.35) (152.4,0.78) (148.4,-0.81) (150.5,0.45) (147,-0.55) (154.1,0.05) (143.7,-0.4) (156.5,0.5) (149.8,-0.2) (152.9,-0.75)};
\end{axis}
\end{tikzpicture}
\end{document}
